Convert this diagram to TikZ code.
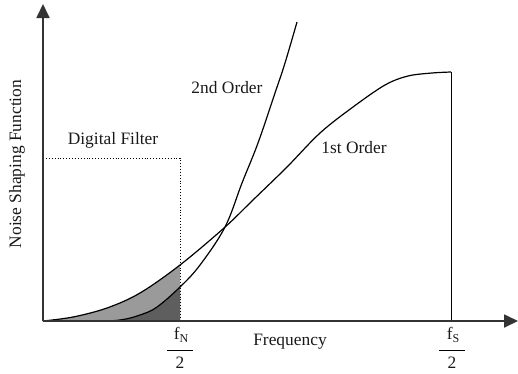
\documentclass[tikz,border=0pt]{standalone}
\usepackage{fontspec}
\setmainfont{Liberation Serif}
\usetikzlibrary{arrows.meta}
\definecolor{axisgray}{HTML}{333333}
\definecolor{lightfill}{HTML}{9A9A9A}
\definecolor{darkfill}{HTML}{5E5E5E}
\tikzset{
  axisline/.style={draw=axisgray, line width=1.8pt, -{Triangle[length=14pt,width=13pt]}},
  curveline/.style={draw=black, line width=1.2pt},
  edgeline/.style={draw=black, line width=1pt},
  filterline/.style={draw=black, line width=0.9pt, dotted},
  lbl/.style={font=\fontsize{17.4}{20}\selectfont, text=black!90, inner sep=0pt},
}
\begin{document}
\begin{tikzpicture}[x=1pt, y=-1pt]
\useasboundingbox (0,0) rectangle (518,373);
\coordinate (O) at (43,321);
\coordinate (ytip) at (43,4);
\coordinate (xtip) at (518,321);
\coordinate (fN) at (180,321);
\coordinate (fNtop) at (180,158);
\coordinate (ftop) at (43,158);
\coordinate (fS) at (451,321);
\coordinate (fStop) at (451,72);
% shading under curves up to fN/2
\begin{scope}
  \clip (43,0) rectangle (180,321);
  \fill[lightfill] plot[smooth, tension=0.6] coordinates {(43,321) (73,317) (107,308) (140,293) (180,265) (224,228) (253,200)} -- (253,321) -- cycle;
  \fill[darkfill] plot[smooth, tension=0.6] coordinates {(43,321) (95,321) (120,320) (140,315) (157,307) (180,287) (200,265) (225,227) (242,183)} -- (242,321) -- cycle;
\end{scope}
% digital filter box
\draw[filterline] (ftop) -- (fNtop) -- (fN);
% curves
\draw[curveline] plot[smooth, tension=0.55] coordinates {(43,321) (73,317) (107,308) (140,293) (180,265) (224,228) (253,200) (287,167) (320,133) (353,107) (385,85) (408,76) (432,73) (451,72)};
\draw[curveline] plot[smooth, tension=0.6] coordinates {(43,321) (95,321) (120,320) (140,315) (157,307) (180,287) (200,265) (225,227) (242,183) (258,143) (275,93) (285,63) (297,22)};
\draw[edgeline] (fStop) -- (fS);
% axes
\draw[axisline] (O) -- (ytip);
\draw[axisline] (O) -- (xtip);
% labels
\node[lbl, rotate=90] (ylab) at (17,164) {Noise Shaping Function};
\node[lbl] (xlab) at (290,342) {Frequency};
\node[lbl] (dflab) at (113,140) {Digital Filter};
\node[lbl] (o2lab) at (227,88) {2nd Order};
\node[lbl] (o1lab) at (354,148) {1st Order};
\node[lbl] (fNnum) at (181,335) {f\raisebox{-0.4ex}{\fontsize{12}{12}\selectfont N}};
\node[lbl] (fNden) at (180,363) {2};
\draw[line width=1pt] (167,350) -- (193,350);
\node[lbl] (fSnum) at (453,335) {f\raisebox{-0.4ex}{\fontsize{12}{12}\selectfont S}};
\node[lbl] (fSden) at (452,363) {2};
\draw[line width=1pt] (439,350) -- (465,350);
\end{tikzpicture}
\end{document}
